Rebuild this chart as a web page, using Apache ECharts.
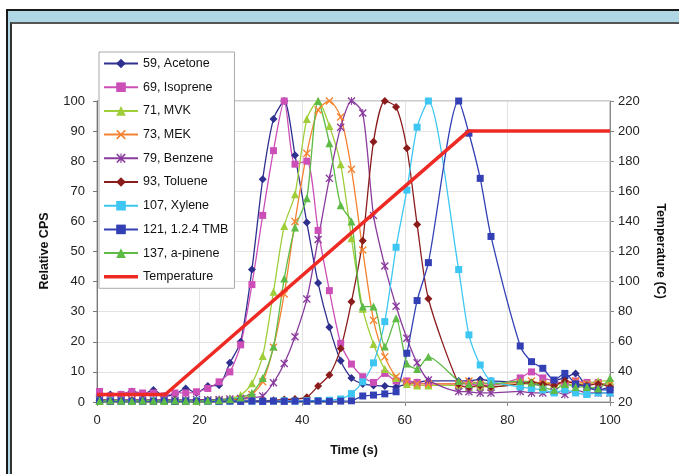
<!DOCTYPE html>
<html><head><meta charset="utf-8">
<script src="https://cdn.jsdelivr.net/npm/echarts@6/dist/echarts.min.js"></script>
<style>
html,body{margin:0;padding:0;background:#fff;overflow:hidden;width:679px;height:474px}
#frame{position:absolute;left:6px;top:9px;width:800px;height:600px;background:#AFD7E4;border-top:2px solid #1a1a1a;border-left:2px solid #1a1a1a}
#inner{position:absolute;left:10px;top:22px;width:800px;height:600px;background:#fff;border-top:2px solid #555;border-left:2px solid #333}
#c{position:absolute;left:0;top:0;width:679px;height:474px}
</style>
</head><body><div id="frame"></div><div id="inner"></div><div id="c"></div>
<script>
// sample times (s)
const times = [0.5, 2.6, 4.7, 6.8, 8.9, 11.0, 13.1, 15.2, 17.3, 19.4, 21.6, 23.8, 25.9, 28.0, 30.2, 32.3, 34.4, 36.5, 38.6, 40.9, 43.1, 45.3, 47.5, 49.6, 51.8, 53.9, 56.1, 58.3, 60.4, 62.4, 64.6, 70.5, 72.5, 74.7, 76.8, 82.5, 84.7, 86.9, 89.1, 91.2, 93.3, 95.5, 97.7, 100.0];
const acetone = [2.5, 2.5, 2.5, 3.5, 2.5, 4, 2, 2.5, 4.5, 3, 5.3, 5.6, 13, 20, 44, 74, 94, 100, 82, 59.6, 39.5, 24.8, 13.7, 8, 6, 5.5, 5.3, 5, 6, 6.5, 7, 7, 7, 7.5, 7, 6.5, 6, 5.5, 7, 8, 9.5, 5, 4, 5];
const isoprene = [3.5, 2, 2.5, 3.5, 3, 3, 2, 3, 3, 3.4, 4.5, 6.7, 10, 19, 39, 62, 83.5, 100, 79, 80, 57, 37, 19.5, 12.6, 8.4, 6.5, 9.5, 7, 7, 6.5, 6, 6, 6, 5.5, 5.5, 8, 10, 8, 7, 6, 7, 6.5, 6.5, 5];
const mvk = [0.5, 0.8, 0.6, 0.7, 0.5, 0.8, 0.6, 0.7, 0.6, 0.8, 0.7, 0.9, 1.2, 2.3, 6.2, 15.3, 36.6, 58.5, 69, 94, 100, 91.7, 79, 54.4, 31, 19.3, 11, 8, 6, 5.5, 5.5, 5.5, 5, 5, 5, 6, 6, 6.5, 6, 5.5, 6, 6, 7, 7];
const mek = [0.4, 0.3, 0.5, 0.4, 0.3, 0.4, 0.5, 0.3, 0.4, 0.3, 0.5, 0.4, 0.6, 1, 2.5, 6.7, 18.2, 35.9, 60, 82.6, 97, 100, 94.7, 77.3, 50.5, 27.2, 15, 8.4, 6.7, 6, 6, 6, 7, 6, 6, 6.5, 7, 6, 6.5, 6, 7, 6, 6, 6];
const benzene = [0.8, 0.6, 0.7, 0.8, 0.6, 0.7, 0.8, 0.6, 0.7, 0.8, 0.7, 0.8, 1, 1.2, 1.5, 2, 6.4, 12.8, 21.7, 34.2, 54, 74.3, 91.3, 100, 96, 62, 45.2, 31.8, 21.2, 13, 7.3, 3.5, 3.4, 3, 3, 3.5, 3, 3, 3.5, 2.5, 4, 3, 3, 3];
const toluene = [0.5, 0.6, 0.4, 0.5, 0.6, 0.4, 0.5, 0.6, 0.4, 0.5, 0.6, 0.5, 0.4, 0.6, 0.5, 0.4, 0.6, 0.8, 1, 1.6, 5.3, 9, 17.8, 33.3, 53.6, 86.5, 100, 98, 84.3, 59, 34.3, 6, 5, 5.5, 5, 6, 6.5, 6, 5.5, 7, 6, 5.5, 6, 5];
const xylene = [0.3, 0.4, 0.3, 0.2, 0.3, 0.4, 0.3, 0.2, 0.3, 0.4, 0.3, 0.2, 0.3, 0.4, 0.3, 0.2, 0.3, 0.4, 0.3, 0.4, 0.5, 0.6, 1, 2.8, 6.7, 13, 26.7, 51.4, 70.4, 91.3, 100, 44, 22.3, 12.3, 7, 5, 4.5, 4, 3, 4, 3, 2.5, 3, 3];
const tmb = [0.3, 0.2, 0.3, 0.2, 0.3, 0.2, 0.3, 0.2, 0.3, 0.2, 0.3, 0.2, 0.3, 0.2, 0.3, 0.2, 0.3, 0.2, 0.3, 0.2, 0.3, 0.2, 0.3, 0.4, 2, 2.3, 2.7, 3.4, 16.2, 33.7, 46.3, 100, 89.3, 74.3, 55, 18.6, 13.4, 11.2, 7.3, 9.5, 6, 5, 4, 4];
const apinene = [0.3, 0.5, 0.4, 0.3, 0.5, 0.4, 0.3, 0.5, 0.4, 0.3, 0.5, 0.6, 0.9, 1.5, 3, 8, 18.4, 41, 58, 67.7, 100, 86, 65.4, 60, 31.7, 31.7, 18.4, 27.8, 12.8, 11, 15, 7, 6, 6.5, 6, 7, 6.5, 5, 4, 6, 5, 5, 4.5, 8];
// temperature profile
const tempTimes = [0, 13.3, 72.4, 100];
const tempValues = [25, 25, 200, 200];
// tick labels
const xTicks = [0, 20, 40, 60, 80, 100];
const yLeftTicks = [0, 10, 20, 30, 40, 50, 60, 70, 80, 90, 100];
const yRightTicks = [20, 40, 60, 80, 100, 120, 140, 160, 180, 200, 220];

const X_PATH = 'path://M0,1.2 L1.2,0 L5,3.8 L8.8,0 L10,1.2 L6.2,5 L10,8.8 L8.8,10 L5,6.2 L1.2,10 L0,8.8 L3.8,5 Z';
const STAR_PATH = 'path://M0,1.2 L1.2,0 L5,3.8 L8.8,0 L10,1.2 L6.2,5 L10,8.8 L8.8,10 L5,6.2 L1.2,10 L0,8.8 L3.8,5 Z M4.4,0 L5.6,0 L5.6,10 L4.4,10 Z';

function pairs(arr){ return times.map((t,i)=>[t, arr[i]]); }
function mk(name, arr, color, symbol, size){
  return {name, type:'line', data:pairs(arr), yAxisIndex:0, smooth:0.25,
    symbol, symbolSize:size, showSymbol:true,
    lineStyle:{color, width:1.3}, itemStyle:{color, borderWidth:0}, emphasis:{disabled:true}, animation:false};
}
const series = [
  mk('59, Acetone', acetone, '#2E2F8F', 'diamond', 8),
  mk('69, Isoprene', isoprene, '#CC4FB8', 'rect', 7),
  mk('71, MVK', mvk, '#9FCE3A', 'triangle', 8),
  mk('73, MEK', mek, '#F5822E', X_PATH, 8),
  mk('79, Benzene', benzene, '#8A3C9E', STAR_PATH, 8),
  mk('93, Toluene', toluene, '#8B1C1C', 'diamond', 8),
  mk('107, Xylene', xylene, '#3EC6F2', 'rect', 7),
  mk('121, 1.2.4 TMB', tmb, '#3340B5', 'rect', 7),
  mk('137, a-pinene', apinene, '#5DBB46', 'triangle', 8),
  {name:'Temperature', type:'line', yAxisIndex:1, data:tempTimes.map((t,i)=>[t,tempValues[i]]),
    symbol:'none', lineStyle:{color:'#EE2A24', width:3.5}, itemStyle:{color:'#EE2A24'}, animation:false, z:5}
];

const legendData = series.map(s => s.name === 'Temperature'
  ? {name:s.name, icon:'path://M0,0 L40,0 L40,4 L0,4 Z', itemStyle:{color:'#EE2A24'}}
  : {name:s.name});

const chart = echarts.init(document.getElementById('c'), null, {renderer:'canvas'});
chart.setOption({
  animation:false,
  grid:{left:97, right:69, top:101, bottom:72, show:true, borderColor:'#999', borderWidth:1, backgroundColor:'transparent'},
  legend:{orient:'vertical', left:99, top:52, padding:[5,6,5,4], itemWidth:34, itemHeight:12, itemGap:10.7,
    backgroundColor:'#fff', borderColor:'#AAA', borderWidth:1, borderRadius:0,
    textStyle:{fontFamily:'Liberation Sans, Arial', fontSize:12.5, color:'#111'},
    data:legendData},
  xAxis:{type:'value', min:0, max:100, interval:20,
    axisLine:{lineStyle:{color:'#888'}}, axisTick:{show:true, length:4, lineStyle:{color:'#888'}},
    axisLabel:{fontFamily:'Liberation Sans, Arial', fontSize:13, color:'#222', margin:12,
      formatter:v=>xTicks.includes(v)?String(v):''},
    splitLine:{show:true, lineStyle:{color:'#E2E2E2'}}},
  yAxis:[
    {type:'value', min:0, max:100, interval:10,
      axisLine:{show:true, lineStyle:{color:'#777'}}, axisTick:{show:true, length:4, lineStyle:{color:'#777'}},
      axisLabel:{fontFamily:'Liberation Sans, Arial', fontSize:13, color:'#222', margin:12,
        formatter:v=>yLeftTicks.includes(v)?String(v):''},
      splitLine:{show:true, lineStyle:{color:'#E2E2E2'}}},
    {type:'value', min:20, max:220, interval:20, position:'right',
      axisLine:{show:true, lineStyle:{color:'#888'}}, axisTick:{show:true, length:4, lineStyle:{color:'#888'}},
      axisLabel:{fontFamily:'Liberation Sans, Arial', fontSize:13, color:'#222', margin:8,
        formatter:v=>yRightTicks.includes(v)?String(v):''},
      splitLine:{show:false}}
  ],
  graphic:[
    {type:'text', x:45, y:251, rotation:Math.PI/2, style:{text:'Relative CPS', font:'bold 12.5px "Liberation Sans", Arial', fill:'#111', textAlign:'center', textVerticalAlign:'middle'}},
    {type:'text', x:660, y:251, rotation:-Math.PI/2, style:{text:'Temperature (C)', font:'bold 12.5px "Liberation Sans", Arial', fill:'#111', textAlign:'center', textVerticalAlign:'middle'}},
    {type:'text', x:354, y:451, style:{text:'Time (s)', font:'bold 12.5px "Liberation Sans", Arial', fill:'#111', textAlign:'center', textVerticalAlign:'middle'}}
  ],
  series
});
</script>
</body></html>
